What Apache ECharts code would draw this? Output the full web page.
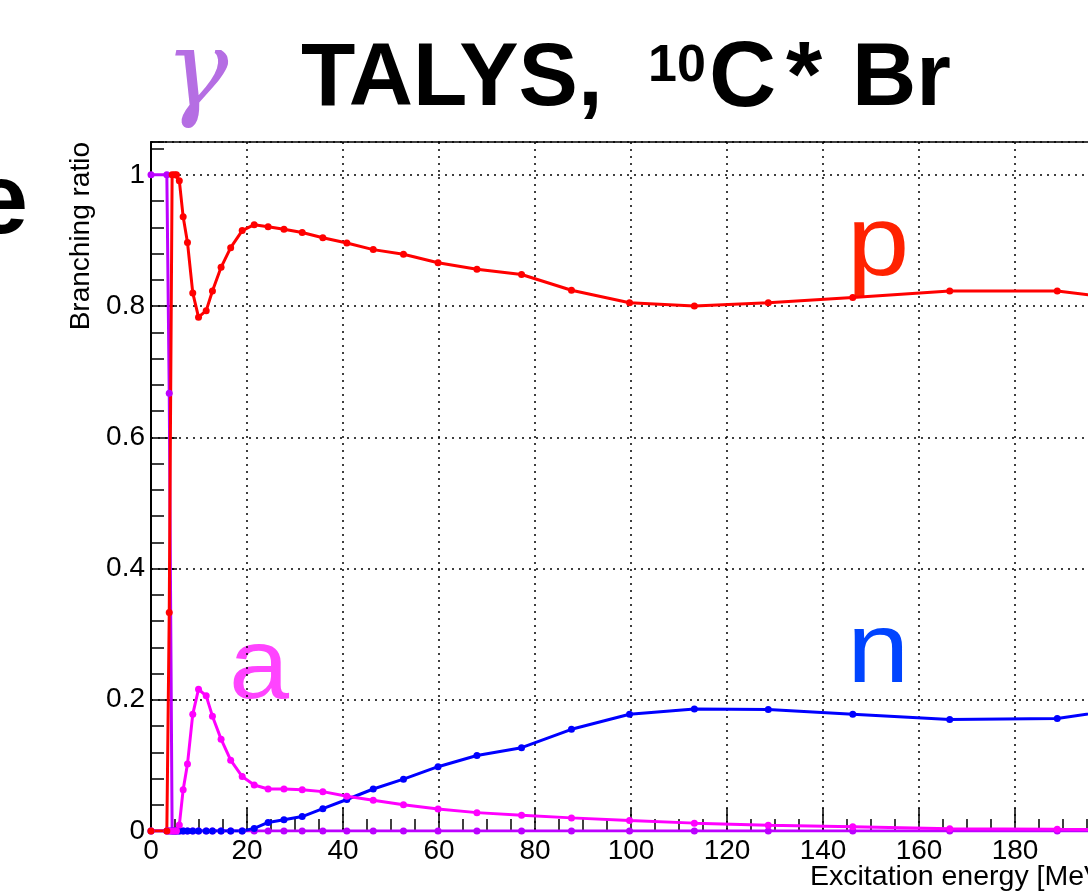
<!DOCTYPE html>
<html><head><meta charset="utf-8">
<script src="https://cdn.jsdelivr.net/npm/echarts@6/dist/echarts.min.js"></script>
<style>html,body{margin:0;padding:0;background:#fff}#c{width:1088px;height:891px}</style>
</head><body><div id="c"></div>
<script>
// Excitation energy grid [MeV]
const energies = [0, 3.3, 3.8, 4.4, 4.9, 5.3, 5.9, 6.7, 7.6, 8.7, 9.9, 11.5, 12.8, 14.6, 16.6, 19.0, 21.5, 24.4, 27.7, 31.5, 35.8, 40.8, 46.3, 52.6, 59.8, 67.9, 77.2, 87.6, 99.7, 113.2, 128.6, 146.2, 166.4, 188.8, 214];
// Branching ratios
const gammaBr = [1, 1, 0.667, 0, 0, 0, 0, 0, 0, 0, 0, 0, 0, 0, 0, 0, 0, 0, 0, 0, 0, 0, 0, 0, 0, 0, 0, 0, 0, 0, 0, 0, 0, 0, 0];
const protonBr = [0, 0, 0.333, 1, 1, 1, 0.991, 0.936, 0.897, 0.820, 0.783, 0.793, 0.823, 0.859, 0.889, 0.915, 0.924, 0.921, 0.917, 0.912, 0.904, 0.896, 0.886, 0.879, 0.866, 0.856, 0.848, 0.824, 0.805, 0.800, 0.805, 0.813, 0.823, 0.823, 0.800];
const alphaBr = [0, 0, 0, 0, 0, 0, 0.009, 0.063, 0.102, 0.178, 0.216, 0.206, 0.175, 0.140, 0.108, 0.083, 0.070, 0.064, 0.064, 0.063, 0.060, 0.053, 0.047, 0.040, 0.0335, 0.028, 0.024, 0.020, 0.016, 0.012, 0.0087, 0.0066, 0.0035, 0.0025, 0.002];
const neutronBr = [0, 0, 0, 0, 0, 0, 0, 0, 0, 0, 0, 0, 0, 0, 0, 0, 0.004, 0.013, 0.017, 0.022, 0.034, 0.048, 0.064, 0.079, 0.098, 0.115, 0.127, 0.155, 0.178, 0.186, 0.185, 0.178, 0.170, 0.1715, 0.198];
const xTickStep = 20;
const yTickStep = 0.2;
const yMinorStep = 0.04;

const FONT = 'Liberation Sans';
const pairs = arr => energies.map((e, i) => [e, arr[i]]);
function mkSeries(name, arr, color) {
  return {
    name, type: 'line', data: pairs(arr), yAxisIndex: 0,
    symbol: 'circle', symbolSize: 7, showSymbol: true,
    lineStyle: { color, width: 3 }, itemStyle: { color },
    clip: true, animation: false
  };
}

const chart = echarts.init(document.getElementById('c'), null, { renderer: 'canvas' });
chart.setOption({
  animation: false,
  backgroundColor: '#fff',
  grid: { left: 151, top: 142, width: 960, height: 689, containLabel: false, outerBoundsMode: 'none',
    show: true, borderColor: '#000', borderWidth: 1.5, backgroundColor: 'transparent' },
  xAxis: {
    type: 'value', min: 0, max: 200, interval: xTickStep,
    axisLine: { show: true, onZero: false, lineStyle: { color: '#000', width: 2 } },
    axisTick: { show: true, inside: true, length: 23, lineStyle: { color: '#000', width: 1.5 } },
    minorTick: { show: true, splitNumber: 4, length: 12, lineStyle: { color: '#000', width: 1.5 } },
    axisLabel: { color: '#000', fontFamily: FONT, fontSize: 28, margin: 6 },
    splitLine: { show: true, lineStyle: { color: '#000', width: 1.5, type: [2, 5] } }
  },
  yAxis: [{
    type: 'value', min: 0, max: 1.05, interval: yTickStep, position: 'left',
    axisLine: { show: true, onZero: false, lineStyle: { color: '#000', width: 2 } },
    axisTick: { show: true, inside: true, length: 26, lineStyle: { color: '#000', width: 1.5 } },
    axisLabel: { color: '#000', fontFamily: FONT, fontSize: 28, margin: 6, showMaxLabel: false,
      formatter: v => (Math.abs(v / yTickStep - Math.round(v / yTickStep)) < 1e-6 ? String(+v.toFixed(1)) : '') },
    splitLine: { show: true, lineStyle: { color: '#000', width: 1.5, type: [2, 5] } }
  }, {
    type: 'value', min: 0, max: 1.05, interval: yMinorStep, position: 'left', offset: 0,
    axisLine: { show: false, onZero: false },
    axisTick: { show: true, inside: true, length: 13, lineStyle: { color: '#000', width: 1.5 } },
    axisLabel: { show: false }, splitLine: { show: false }
  }],
  series: [
    mkSeries('gamma', gammaBr, '#bb00ff'),
    mkSeries('n', neutronBr, '#0000ff'),
    mkSeries('a', alphaBr, '#ff00ff'),
    mkSeries('p', protonBr, '#ff0000')
  ],
  graphic: [
    { type: 'text', x: 1111, y: 877,
      style: { text: 'Excitation energy [MeV]', fontFamily: FONT, fontSize: 28.5, fill: '#000', align: 'right', verticalAlign: 'middle' } },
    { type: 'text', x: 81, y: 142, rotation: Math.PI / 2,
      style: { text: 'Branching ratio', fontFamily: FONT, fontSize: 28, fill: '#000', align: 'right', verticalAlign: 'middle' } },
    { type: 'text', x: 165, y: 78,
      style: { text: 'γ', fontFamily: 'DejaVu Serif', fontStyle: 'italic', fontSize: 106, fill: '#b56ee3', align: 'left', verticalAlign: 'middle' } },
    { type: 'text', x: 301, y: 80,
      style: { text: 'TALYS,', fontFamily: FONT, fontWeight: 'bold', fontSize: 89, fill: '#000', align: 'left', verticalAlign: 'middle' } },
    { type: 'text', x: 648, y: 67,
      style: { text: '10', fontFamily: FONT, fontWeight: 'bold', fontSize: 52, fill: '#000', align: 'left', verticalAlign: 'middle' } },
    { type: 'text', x: 709, y: 80,
      style: { text: 'C', fontFamily: FONT, fontWeight: 'bold', fontSize: 93, fill: '#000', align: 'left', verticalAlign: 'middle' } },
    { type: 'text', x: 786, y: 80,
      style: { text: '*', fontFamily: FONT, fontWeight: 'bold', fontSize: 93, fill: '#000', align: 'left', verticalAlign: 'middle' } },
    { type: 'text', x: 852, y: 80,
      style: { text: 'Br', fontFamily: FONT, fontWeight: 'bold', fontSize: 89, fill: '#000', align: 'left', verticalAlign: 'middle' } },
    { type: 'text', x: 28, y: 205,
      style: { text: 'e', fontFamily: FONT, fontWeight: 'bold', fontSize: 100, fill: '#000', align: 'right', verticalAlign: 'middle' } },
    { type: 'text', x: 847, y: 247, scaleX: 1.12,
      style: { text: 'p', fontFamily: FONT, fontSize: 100, fill: '#ff2200', align: 'left', verticalAlign: 'middle' } },
    { type: 'text', x: 847, y: 654, scaleX: 1.12,
      style: { text: 'n', fontFamily: FONT, fontSize: 100, fill: '#0044ff', align: 'left', verticalAlign: 'middle' } },
    { type: 'text', x: 229, y: 670, scaleX: 1.08,
      style: { text: 'a', fontFamily: FONT, fontSize: 100, fill: '#ff44ff', align: 'left', verticalAlign: 'middle' } }
  ]
});
</script></body></html>
